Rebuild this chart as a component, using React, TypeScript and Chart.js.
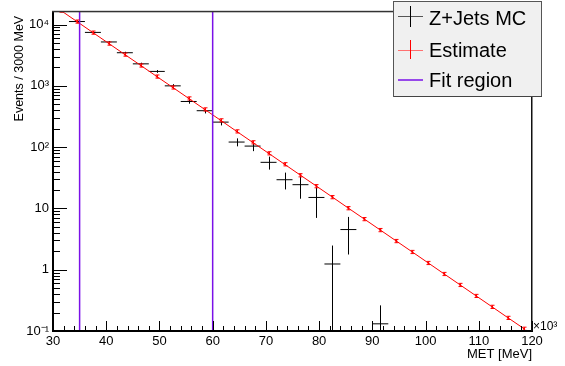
import React, { useEffect, useRef } from "react";
import { Chart, registerables } from "chart.js";

Chart.register(...registerables);

// ---- data (MET in units of 10^3 MeV, bins of 3000 MeV) ----
const estimateBinCenters = [
  31.5, 34.5, 37.5, 40.5, 43.5, 46.5, 49.5, 52.5, 55.5, 58.5,
  61.5, 64.5, 67.5, 70.5, 73.5, 76.5, 79.5, 82.5, 85.5, 88.5,
  91.5, 94.5, 97.5, 100.5, 103.5, 106.5, 109.5, 112.5, 115.5, 118.5,
];
const estimateValues = [
  16900, 11200, 7400, 4900, 3240, 2150, 1420, 942, 624, 413,
  274, 181, 120, 79.4, 52.6, 34.8, 23.1, 15.3, 10.1, 6.7,
  4.44, 2.94, 1.95, 1.29, 0.853, 0.565, 0.374, 0.248, 0.164, 0.109,
];
const estimateErrors = [
  1010, 670, 444, 294, 194, 129, 85, 56, 37, 25,
  16.4, 10.9, 7.2, 4.8, 3.2, 2.1, 1.39, 0.92, 0.61, 0.4,
  0.27, 0.18, 0.117, 0.077, 0.051, 0.034, 0.022, 0.015, 0.0098, 0.0065,
];
const mcBinCenters = [
  34.5, 37.5, 40.5, 43.5, 46.5, 49.5, 52.5, 55.5, 58.5, 61.5,
  64.5, 67.5, 70.5, 73.5, 76.5, 79.5, 82.5, 85.5, 91.5,
];
const mcValues = [
  11200, 7450, 5200, 3470, 2285, 1720, 1000, 556, 393, 256,
  121, 104, 56.5, 29.4, 24.4, 15.1, 1.24, 4.52, 0.131,
];
const mcErrors = [
  250, 200, 160, 130, 100, 90, 65, 45, 38, 30,
  18, 18, 13.5, 9, 10, 8.1, 1.24, 2.75, 0.131,
];
const binHalfWidth = 1.5;
const fitRegion = [35, 60];

const xTickValues = [30, 40, 50, 60, 70, 80, 90, 100, 110, 120];
const yTickValues = [0.1, 1, 10, 100, 1000, 10000];
const yTickLabels = ["10\u207B\u00B9", "1", "10", "10\u00B2", "10\u00B3", "10\u2074"];
const legendLabels = ["Z+Jets MC", "Estimate", "Fit region"];
const xTitle = "MET [MeV]";
const xExponent = "\u00D710\u00B3";
const yTitle = "Events / 3000 MeV";

const X_MIN = 30;
const X_MAX = 120;
const Y_MIN = 0.1;
const Y_MAX = 16150;

const FONT = "'Liberation Sans', Arial, Helvetica, sans-serif";
const PURPLE = "#7a10e8";
const RED = "#ff0000";

const rootPlugin = {
  id: "rootDecor",
  beforeDatasetsDraw(chart: any) {
    const { ctx, chartArea: ca, scales } = chart;
    const xs = scales.x;
    const ys = scales.y;
    ctx.save();
    ctx.beginPath();
    ctx.rect(ca.left, ca.top, ca.right - ca.left, ca.bottom - ca.top);
    ctx.clip();
    ctx.strokeStyle = "#000";
    ctx.lineWidth = 1;
    for (let i = 0; i < mcBinCenters.length; i++) {
      const xc = mcBinCenters[i];
      const v = mcValues[i];
      const e = mcErrors[i];
      const px = Math.round(xs.getPixelForValue(xc)) + 0.5;
      const x1 = xs.getPixelForValue(xc - binHalfWidth);
      const x2 = xs.getPixelForValue(xc + binHalfWidth);
      const py = ys.getPixelForValue(v);
      const hi = ys.getPixelForValue(v + e);
      const lo = v - e > 0 ? ys.getPixelForValue(v - e) : ca.bottom + 2;
      ctx.beginPath();
      ctx.moveTo(x1, py);
      ctx.lineTo(x2, py);
      ctx.moveTo(px, hi);
      ctx.lineTo(px, lo);
      ctx.stroke();
    }
    ctx.restore();
  },
  afterDatasetsDraw(chart: any) {
    const { ctx, chartArea: ca, scales } = chart;
    const xs = scales.x;
    const ys = scales.y;
    ctx.save();
    ctx.beginPath();
    ctx.rect(ca.left, ca.top, ca.right - ca.left, ca.bottom - ca.top);
    ctx.clip();
    ctx.strokeStyle = RED;
    ctx.lineWidth = 1;
    for (let i = 0; i < estimateBinCenters.length; i++) {
      const xc = estimateBinCenters[i];
      const v = estimateValues[i];
      const e = estimateErrors[i];
      const px = Math.round(xs.getPixelForValue(xc)) + 0.5;
      const hi = ys.getPixelForValue(v + e);
      const lo = ys.getPixelForValue(v - e);
      ctx.beginPath();
      ctx.moveTo(px, hi);
      ctx.lineTo(px, lo);
      ctx.moveTo(px - 2, hi);
      ctx.lineTo(px + 2, hi);
      ctx.moveTo(px - 2, lo);
      ctx.lineTo(px + 2, lo);
      ctx.stroke();
    }
    ctx.restore();
  },
  afterDraw(chart: any) {
    const { ctx, chartArea: ca, scales } = chart;
    const xs = scales.x;
    const ys = scales.y;
    ctx.save();

    // ticks (inside the frame)
    ctx.strokeStyle = "#000";
    ctx.lineWidth = 1;
    ctx.beginPath();
    for (let v = X_MIN; v <= X_MAX + 1e-9; v += 2) {
      const px = Math.round(xs.getPixelForValue(v)) + 0.5;
      const major = xTickValues.includes(v);
      const len = major ? 10 : 5;
      ctx.moveTo(px, ca.bottom);
      ctx.lineTo(px, ca.bottom - len);
    }
    for (let d = 0; d < yTickValues.length; d++) {
      const dec = yTickValues[d];
      for (let m = 1; m <= 9; m++) {
        const val = dec * m;
        if (val > Y_MAX || val < Y_MIN) continue;
        const py = Math.round(ys.getPixelForValue(val)) + 0.5;
        const len = m === 1 ? 14 : 7;
        ctx.moveTo(ca.left, py);
        ctx.lineTo(ca.left + len, py);
      }
    }
    ctx.stroke();

    // frame
    const w = ca.right - ca.left;
    const h = ca.bottom - ca.top;
    ctx.fillStyle = "#000";
    ctx.fillRect(ca.left - 1, ca.bottom - 1, w + 2, 2);
    ctx.fillRect(ca.left - 1, ca.top, 2, h);
    ctx.fillStyle = "#333";
    ctx.fillRect(ca.left - 1, ca.top - 1, w + 2, 1.5);
    ctx.fillStyle = "#111";
    ctx.fillRect(ca.right - 1, ca.top - 1, 1.5, h + 1);

    // axis titles
    ctx.fillStyle = "#000";
    ctx.font = `13px ${FONT}`;
    ctx.textAlign = "right";
    ctx.textBaseline = "alphabetic";
    ctx.fillText(xTitle, ca.right, 358);
    ctx.textAlign = "left";
    ctx.font = `12px ${FONT}`;
    ctx.fillText(xExponent, ca.right + 1, 330);

    ctx.save();
    ctx.translate(23, ca.top + 4);
    ctx.rotate(-Math.PI / 2);
    ctx.textAlign = "right";
    ctx.font = `12.5px ${FONT}`;
    ctx.fillText(yTitle, 0, 0);
    ctx.restore();

    // legend
    const lx = 393;
    const ly = 1;
    const lw = 148;
    const lh = 95;
    ctx.fillStyle = "#f0f0f0";
    ctx.fillRect(lx, ly, lw, lh);
    ctx.strokeStyle = "#555";
    ctx.lineWidth = 1;
    ctx.strokeRect(lx + 0.5, ly + 0.5, lw, lh);
    ctx.fillStyle = "#444";
    ctx.fillRect(lx + 1, ly + lh, lw, 1);

    const rows = [17, 50, 80];
    const mx1 = 398;
    const mx2 = 423;
    const mc = 410.5;
    // Z+Jets MC
    ctx.strokeStyle = "#555";
    ctx.beginPath();
    ctx.moveTo(mx1, rows[0] - 0.5);
    ctx.lineTo(mx2, rows[0] - 0.5);
    ctx.stroke();
    ctx.strokeStyle = "#000";
    ctx.beginPath();
    ctx.moveTo(mc, 6);
    ctx.lineTo(mc, 27);
    ctx.stroke();
    // Estimate
    ctx.strokeStyle = "#ff7070";
    ctx.beginPath();
    ctx.moveTo(mx1, rows[1] + 0.5);
    ctx.lineTo(mx2, rows[1] + 0.5);
    ctx.stroke();
    ctx.strokeStyle = RED;
    ctx.beginPath();
    ctx.moveTo(mc, 40);
    ctx.lineTo(mc, 59);
    ctx.stroke();
    // Fit region
    ctx.strokeStyle = PURPLE;
    ctx.lineWidth = 1.5;
    ctx.beginPath();
    ctx.moveTo(mx1, rows[2]);
    ctx.lineTo(mx2, rows[2]);
    ctx.stroke();

    ctx.fillStyle = "#000";
    ctx.font = `20px ${FONT}`;
    ctx.textAlign = "left";
    ctx.textBaseline = "alphabetic";
    ctx.fillText(legendLabels[0], 429, 25);
    ctx.fillText(legendLabels[1], 429, 57);
    ctx.fillText(legendLabels[2], 429, 87);

    ctx.restore();
  },
};

export default function App() {
  const canvasRef = useRef<HTMLCanvasElement | null>(null);

  useEffect(() => {
    const canvas = canvasRef.current;
    if (!canvas) return;
    const tickFont = { family: FONT, size: 13 };
    const chart = new Chart(canvas, {
      type: "scatter",
      data: {
        datasets: [
          {
            label: legendLabels[2],
            data: [
              { x: fitRegion[0], y: Y_MIN },
              { x: fitRegion[0], y: Y_MAX },
            ],
            showLine: true,
            borderColor: PURPLE,
            borderWidth: 1.5,
            pointRadius: 0,
            order: 0,
          },
          {
            label: legendLabels[2] + " end",
            data: [
              { x: fitRegion[1], y: Y_MIN },
              { x: fitRegion[1], y: Y_MAX },
            ],
            showLine: true,
            borderColor: PURPLE,
            borderWidth: 1.5,
            pointRadius: 0,
            order: 0,
          },
          {
            label: legendLabels[1],
            data: estimateBinCenters.map((x, i) => ({ x, y: estimateValues[i] })),
            showLine: true,
            borderColor: RED,
            borderWidth: 1,
            pointStyle: "rect",
            pointRadius: 1.3,
            pointBackgroundColor: RED,
            pointBorderWidth: 0,
            order: 1,
          },
          {
            label: legendLabels[0],
            data: mcBinCenters.map((x, i) => ({ x, y: mcValues[i] })),
            showLine: false,
            pointRadius: 0,
            order: 2,
          },
        ],
      },
      options: {
        responsive: false,
        animation: false,
        events: [],
        layout: { padding: { left: 0, right: 33, top: 6, bottom: 0 } },
        plugins: {
          legend: { display: false },
          tooltip: { enabled: false },
        },
        scales: {
          x: {
            type: "linear",
            min: X_MIN,
            max: X_MAX,
            afterFit: (s: any) => {
              s.height = 35;
            },
            afterBuildTicks: (s: any) => {
              s.ticks = xTickValues.map((v) => ({ value: v }));
            },
            ticks: {
              padding: 3,
              maxRotation: 0,
              autoSkip: false,
              color: "#000",
              font: tickFont,
            },
            grid: { display: false, drawTicks: false },
            border: { display: false },
          },
          y: {
            type: "logarithmic",
            min: Y_MIN,
            max: Y_MAX,
            afterFit: (s: any) => {
              s.width = 53;
            },
            afterBuildTicks: (s: any) => {
              s.ticks = yTickValues.map((v) => ({ value: v }));
            },
            ticks: {
              padding: 4,
              autoSkip: false,
              color: "#000",
              font: tickFont,
              callback: (v: any) => {
                const i = yTickValues.indexOf(Number(v));
                return i >= 0 ? yTickLabels[i] : "";
              },
            },
            grid: { display: false, drawTicks: false },
            border: { display: false },
          },
        },
      },
      plugins: [rootPlugin],
    } as any);
    return () => chart.destroy();
  }, []);

  return (
    <div style={{ position: "fixed", left: 0, top: 0, width: 565, height: 366, background: "#fff" }}>
      <canvas ref={canvasRef} width={565} height={366} style={{ display: "block" }} />
    </div>
  );
}
